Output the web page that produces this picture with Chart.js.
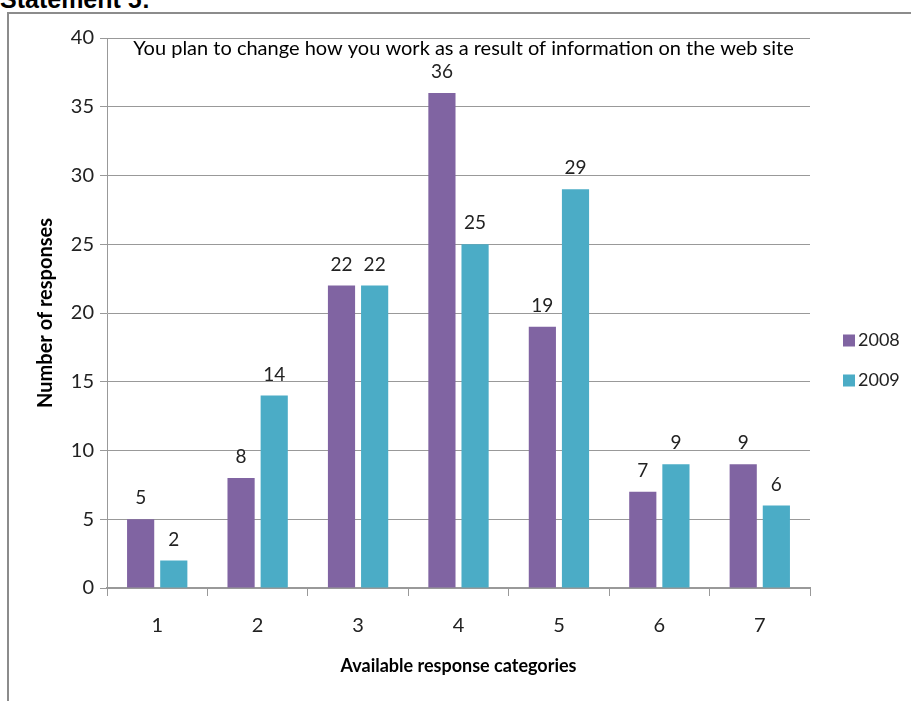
<!DOCTYPE html>
<html>
<head>
<meta charset="utf-8">
<script src="https://cdn.jsdelivr.net/npm/chart.js@4.4.1/dist/chart.umd.min.js"></script>
<style>
  html, body { margin: 0; padding: 0; background: #fff; }
  #wrap { position: relative; width: 911px; height: 701px; overflow: hidden; }
  #frame { position: absolute; left: 7px; top: 12px; width: 920px; height: 700px;
           border-left: 2px solid #8c8c8c; border-top: 2px solid #8c8c8c; }
  #stmt { position: absolute; left: 0; top: -13px; font: bold 25px/25px "Liberation Sans", Arial, sans-serif; color: #000; }
  #holder { position: absolute; left: 0; top: 0; width: 911px; height: 701px; }
</style>
</head>
<body>
<div id="wrap">
  <div id="stmt">Statement 5:</div>
  <div id="frame"></div>
  <div id="holder"><canvas id="chart"></canvas></div>
</div>
<script>
const categories = ['1', '2', '3', '4', '5', '6', '7'];
const values2008 = [5, 8, 22, 36, 19, 7, 9];
const values2009 = [2, 14, 22, 25, 29, 9, 6];
const yTicks = [0, 5, 10, 15, 20, 25, 30, 35, 40];

const chartTitle = 'You plan to change how you work as a result of information on the web site';
const fontFamily = 'Lato, "Open Sans", sans-serif';

// title sits inside the plot area, just under the top gridline
const innerTitle = {
  id: 'innerTitle',
  afterDraw(chart) {
    const ctx = chart.ctx;
    const area = chart.chartArea;
    ctx.save();
    ctx.font = '20px ' + fontFamily;
    ctx.fillStyle = '#000';
    ctx.textAlign = 'center';
    ctx.textBaseline = 'middle';
    ctx.fillText(chartTitle, (area.left + area.right) / 2 + 5, area.top + 11);
    ctx.restore();
  }
};

// value labels above each bar
const barLabels = {
  id: 'barLabels',
  afterDatasetsDraw(chart) {
    const ctx = chart.ctx;
    ctx.save();
    ctx.font = '19px ' + fontFamily;
    ctx.fillStyle = '#222';
    ctx.textAlign = 'center';
    ctx.textBaseline = 'middle';
    chart.data.datasets.forEach((ds, i) => {
      chart.getDatasetMeta(i).data.forEach((bar, j) => {
        ctx.fillText(ds.data[j], bar.x, bar.y - 21);
      });
    });
    ctx.restore();
  }
};

// legend to the right of the plot, like the Excel one (small box, tight gap)
const sideLegend = {
  id: 'sideLegend',
  afterDraw(chart) {
    const ctx = chart.ctx;
    const sets = chart.data.datasets;
    const x = chart.chartArea.right + 33;
    const step = 40;
    const y0 = chart.height / 2 + 10 - (sets.length - 1) * step / 2;
    ctx.save();
    ctx.font = '18px ' + fontFamily;
    ctx.textAlign = 'left';
    ctx.textBaseline = 'middle';
    sets.forEach((ds, i) => {
      const y = y0 + i * step;
      ctx.fillStyle = ds.backgroundColor;
      ctx.fillRect(x, y - 6, 12, 12);
      ctx.fillStyle = '#222';
      ctx.fillText(ds.label, x + 15, y);
    });
    ctx.restore();
  }
};

new Chart(document.getElementById('chart'), {
  type: 'bar',
  data: {
    labels: categories,
    datasets: [{
      label: '2008',
      data: values2008,
      backgroundColor: '#8064A2',
      borderWidth: 0
    }, {
      label: '2009',
      data: values2009,
      backgroundColor: '#4BACC6',
      borderWidth: 0
    }]
  },
  options: {
    responsive: true,
    maintainAspectRatio: false,
    animation: false,
    layout: { padding: { left: 30, top: 38, right: 101, bottom: 20 } },
    datasets: { bar: { categoryPercentage: 0.66, barPercentage: 0.82 } },
    scales: {
      x: {
        offset: true,
        grid: { offset: true, drawOnChartArea: false, drawTicks: true, tickLength: 8, color: '#999' },
        border: { color: '#999', width: 2 },
        ticks: { color: '#222', font: { family: fontFamily, size: 20 }, padding: 18 },
        title: { display: true, text: 'Available response categories', color: '#000',
                 font: { family: fontFamily, size: 18, weight: 'bold' }, padding: { top: 9 } },
        afterFit(scale) { scale.height = 93; }
      },
      y: {
        min: 0,
        max: 40,
        afterBuildTicks(scale) { scale.ticks = yTicks.map(v => ({ value: v })); },
        grid: { color: '#999', tickLength: 7 },
        border: { color: '#999', width: 1 },
        ticks: { color: '#222', font: { family: fontFamily, size: 20 }, padding: 6 },
        title: { display: true, text: 'Number of responses', color: '#000',
                 font: { family: fontFamily, size: 20, weight: 'bold' }, padding: { bottom: 8 } },
        afterFit(scale) { scale.width = 77; }
      }
    },
    plugins: {
      legend: { display: false },
      tooltip: { enabled: false }
    }
  },
  plugins: [innerTitle, barLabels, sideLegend]
});
</script>
</body>
</html>
